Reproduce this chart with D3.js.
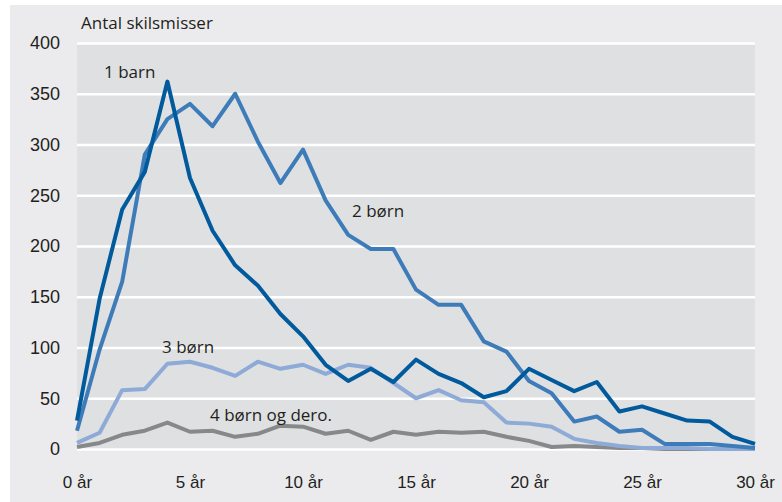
<!DOCTYPE html>
<html>
<head>
<meta charset="utf-8">
<script src="https://cdn.jsdelivr.net/npm/d3@7"></script>
<style>
  html, body { margin: 0; padding: 0; background: #fff; }
  svg { display: block; font-family: "Open Sans", sans-serif; }
</style>
</head>
<body>
<div id="svg-container"></div>
<script>
// data (years since marriage, 0..30)
const years = d3.range(0, 31);
const barn1 = [28, 148, 236, 273, 362, 267, 215, 181, 161, 133, 111, 83, 67, 79, 66, 88, 74, 65, 51, 57, 79, 68, 57, 66, 37, 42, 35, 28, 27, 12, 5];
const born2 = [18, 98, 165, 290, 325, 340, 318, 350, 303, 262, 295, 245, 211, 197, 197, 157, 142, 142, 106, 96, 67, 55, 27, 32, 17, 19, 5, 5, 5, 3, 1];
const born3 = [6, 16, 58, 59, 84, 86, 80, 72, 86, 79, 83, 74, 83, 80, 65, 50, 58, 48, 46, 26, 25, 22, 10, 6, 3, 1, 1, 1, 0, 0, 0];
const born4 = [2, 6, 14, 18, 26, 17, 18, 12, 15, 23, 22, 15, 18, 9, 17, 14, 17, 16, 17, 12, 8, 2, 3, 2, 1, 1, 0, 0, 0, 0, 0];
const yTicks = [0, 50, 100, 150, 200, 250, 300, 350, 400];
const xTicks = [0, 5, 10, 15, 20, 25, 30];

const series = [
  { name: "4 børn og dero.", values: born4, color: "#87888a", lx: 210, ly: 421 },
  { name: "3 børn", values: born3, color: "#8eaad6", lx: 162, ly: 353 },
  { name: "2 børn", values: born2, color: "#3e7cb9", lx: 352, ly: 217 },
  { name: "1 barn", values: barn1, color: "#005a9c", lx: 104, ly: 78 }
];

const width = 782, height = 502;
const margin = { top: 43, right: 27, bottom: 53, left: 77 };

const svg = d3.select("#svg-container").append("svg")
  .attr("width", width).attr("height", height);

// panel background
svg.append("rect").attr("x", 10).attr("y", 5)
  .attr("width", width - 10).attr("height", height - 5)
  .attr("fill", "#ebebed");

const xScale = d3.scaleLinear().domain([0, 30]).range([margin.left, width - margin.right]);
const yScale = d3.scaleLinear().domain([0, 400]).range([height - margin.bottom, margin.top]);

// plot area
svg.append("rect")
  .attr("x", xScale(0)).attr("y", yScale(400))
  .attr("width", xScale(30) - xScale(0)).attr("height", yScale(0) - yScale(400))
  .attr("fill", "#dfe0e2");

// grid + y axis
const yAxis = d3.axisLeft(yScale).tickValues(yTicks)
  .tickSize(-(xScale(30) - xScale(0))).tickPadding(17);
svg.append("g").attr("class", "y-axis")
  .attr("transform", `translate(${xScale(0)},0)`)
  .call(yAxis)
  .call(g => g.select(".domain").remove())
  .call(g => g.selectAll(".tick line").attr("stroke", "#fff").attr("stroke-width", 2.5))
  .call(g => g.selectAll(".tick text").attr("fill", "#231f20").attr("font-size", 18));

// x axis
const xAxis = d3.axisBottom(xScale).tickValues(xTicks)
  .tickFormat(d => `${d} år`).tickSize(0).tickPadding(27);
svg.append("g").attr("class", "x-axis")
  .attr("transform", `translate(0,${yScale(0)})`)
  .call(xAxis)
  .call(g => g.select(".domain").remove())
  .call(g => g.selectAll(".tick text").attr("fill", "#231f20").attr("font-size", 17));

// lines
const line = d3.line().x((d, i) => xScale(years[i])).y(d => yScale(d));
svg.selectAll(".series")
  .data(series)
  .enter()
  .append("path")
  .attr("class", "series")
  .attr("d", d => line(d.values))
  .attr("fill", "none")
  .attr("stroke", d => d.color)
  .attr("stroke-width", 4)
  .attr("stroke-linejoin", "round");

// series labels
svg.selectAll(".label")
  .data(series)
  .enter()
  .append("text")
  .attr("class", "label")
  .attr("x", d => d.lx).attr("y", d => d.ly)
  .attr("fill", "#231f20").attr("font-size", 17)
  .text(d => d.name);

// y title
svg.append("text").attr("x", 81).attr("y", 29)
  .attr("fill", "#231f20").attr("font-size", 17)
  .text("Antal skilsmisser");
</script>
</body>
</html>
